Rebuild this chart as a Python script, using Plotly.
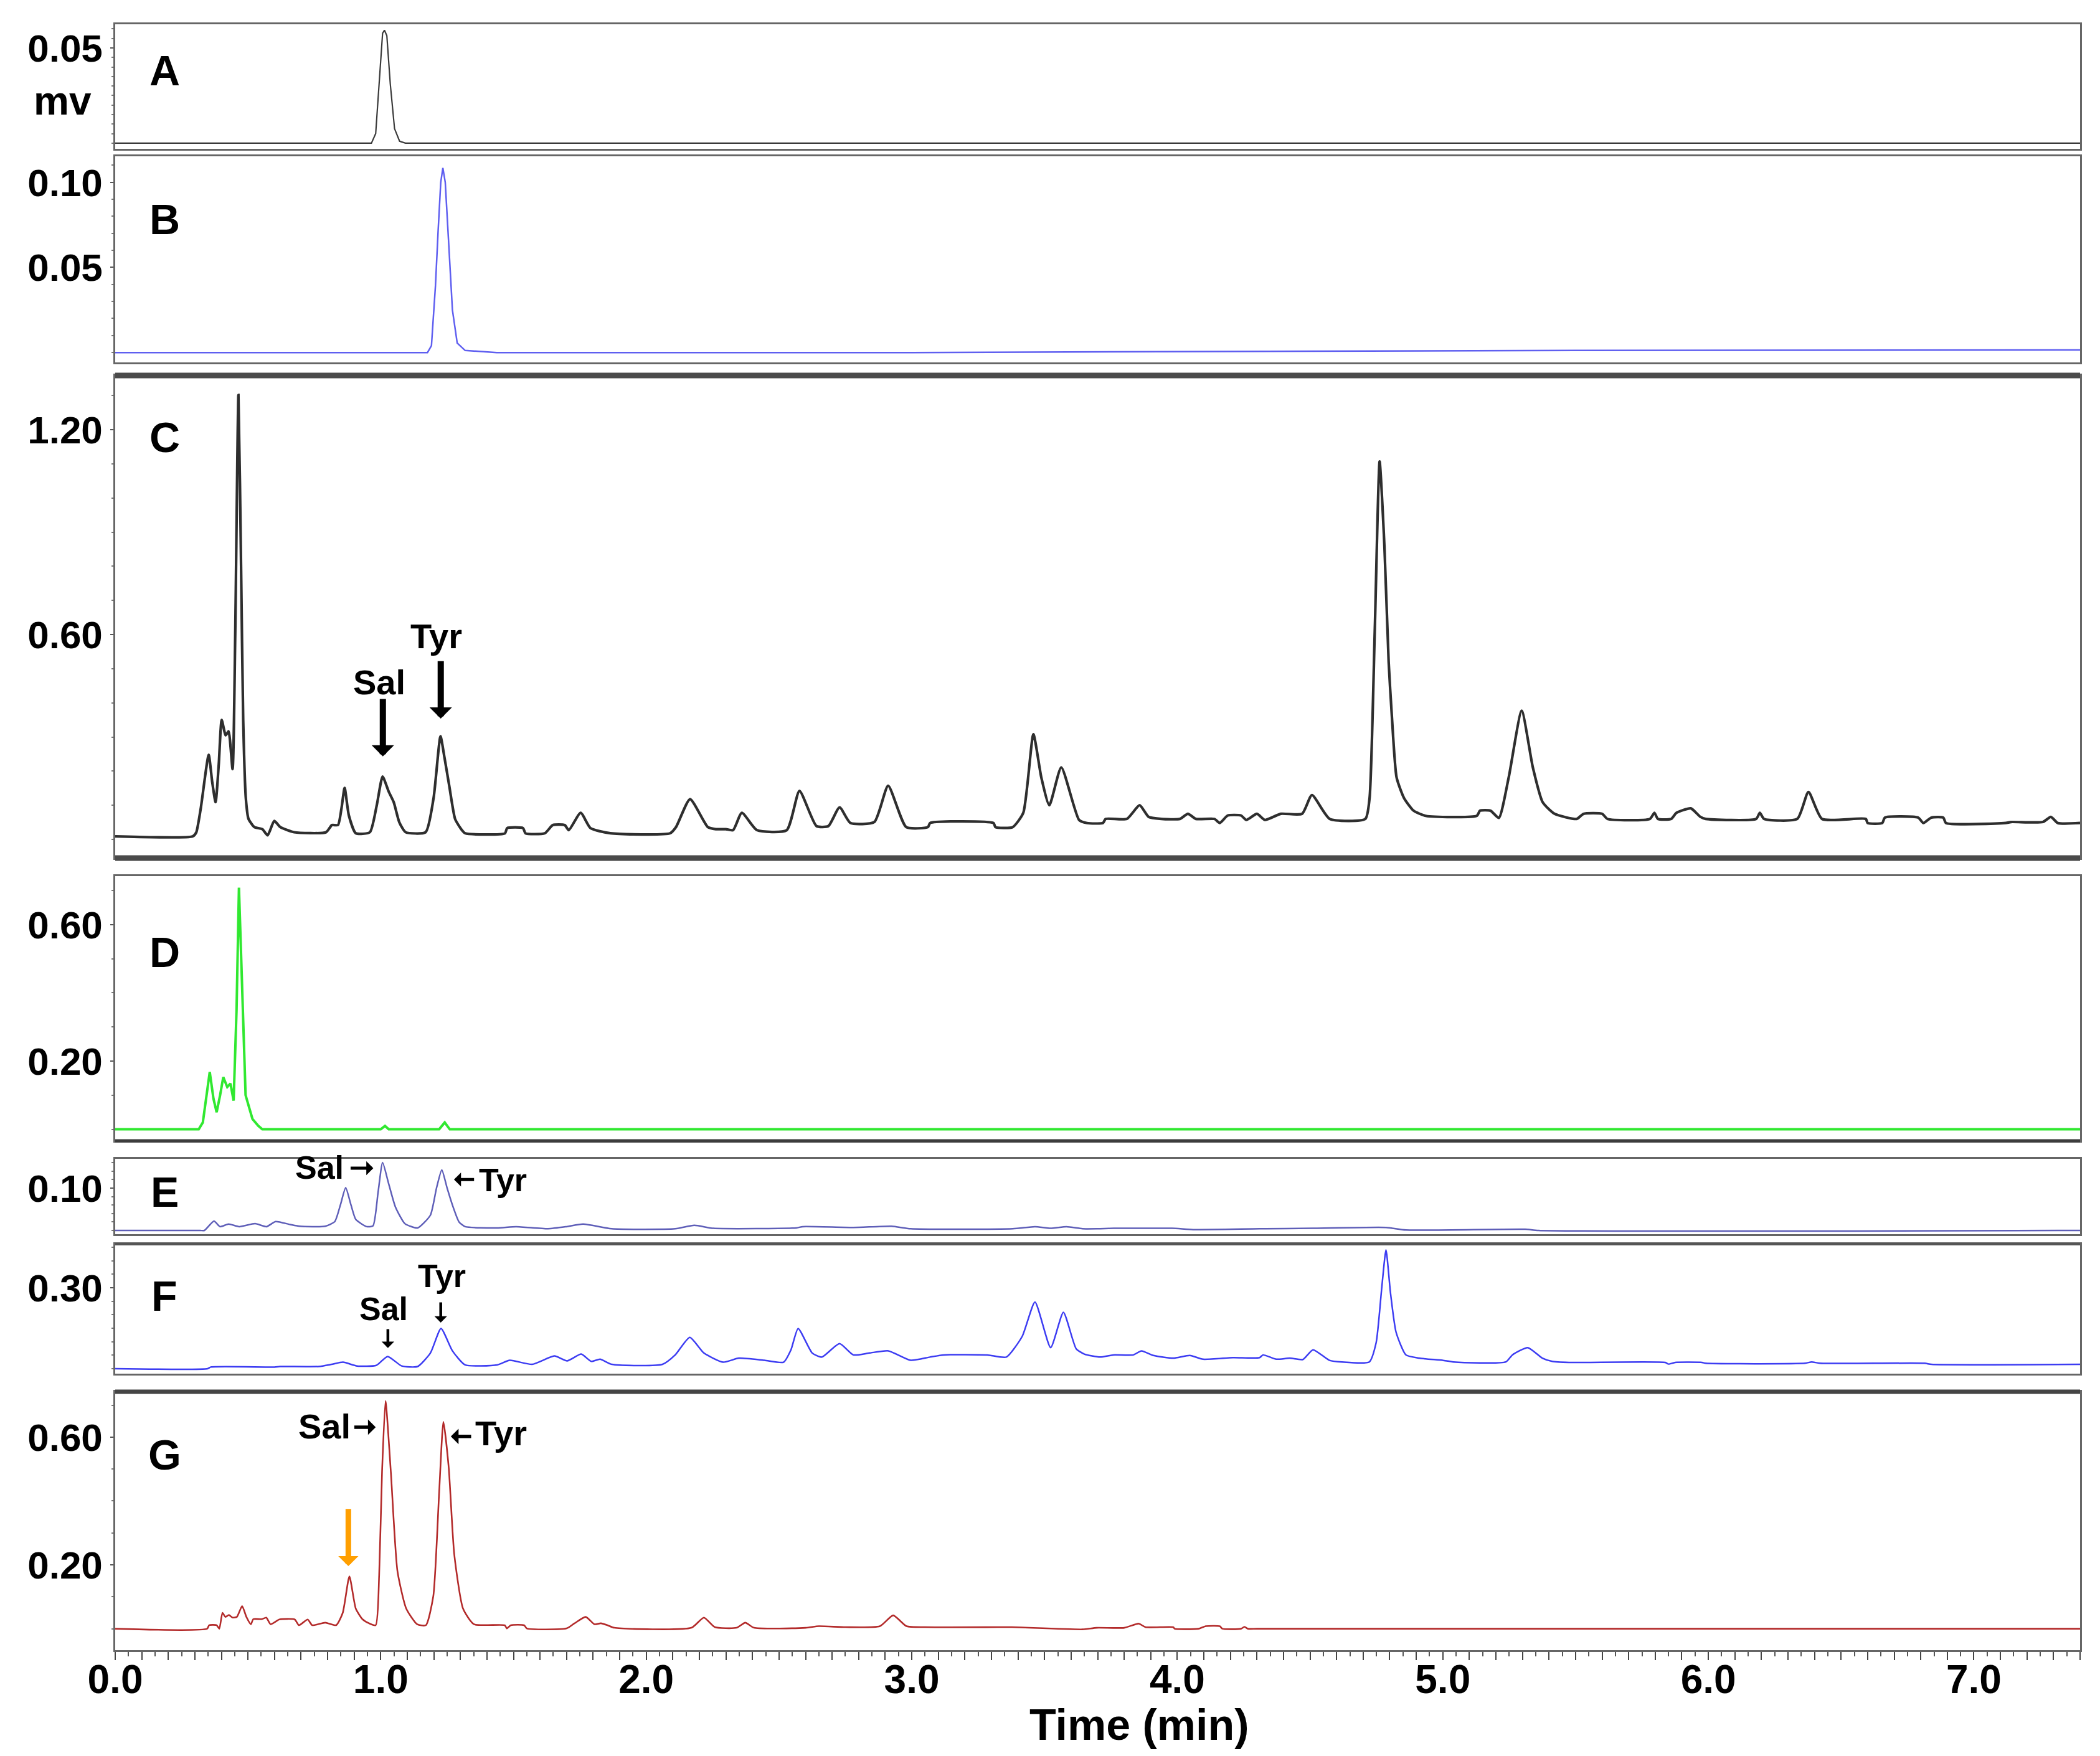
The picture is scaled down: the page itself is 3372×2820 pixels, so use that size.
import numpy as np
import plotly.graph_objects as go

# ---------------- data ----------------
A_time = [0.0, 0.50, 0.965, 0.981, 0.996, 1.007, 1.014, 1.023, 1.036, 1.052, 1.071, 1.093, 2.0, 4.0, 6.0, 7.40]
A_signal = [0.0, 0.0, 0.0, 0.005, 0.0376, 0.0577, 0.0593, 0.0564, 0.031, 0.0076, 0.001, 0.0, 0.0, 0.0, 0.0, 0.0]

B_time = [0.0, 1.176, 1.191, 1.206, 1.216, 1.226, 1.234, 1.243, 1.255, 1.27, 1.288, 1.318, 1.437, 3.0, 4.5, 5.5, 7.40]
B_signal = [0.0, 0.0, 0.004, 0.039, 0.071, 0.100, 0.1085, 0.100, 0.0668, 0.025, 0.0056, 0.0012, 0.0, 0.0, 0.0008, 0.0012, 0.0015]

C_time = [0.0, 0.292, 0.305, 0.322, 0.352, 0.365, 0.378, 0.390, 0.401, 0.416, 0.427, 0.442, 0.452, 0.464,
          0.474, 0.482, 0.492, 0.502, 0.524, 0.554, 0.574, 0.599, 0.622, 0.674, 0.794, 0.816, 0.839, 0.852,
          0.864, 0.880, 0.906, 0.959, 0.985, 1.007, 1.030, 1.049, 1.070, 1.094, 1.169, 1.199, 1.225, 1.240,
          1.258, 1.280, 1.303, 1.318, 1.468, 1.476, 1.536, 1.545, 1.618, 1.648, 1.693, 1.708, 1.753, 1.790,
          1.865, 2.090, 2.112, 2.165, 2.232, 2.262, 2.300, 2.327, 2.360, 2.417, 2.529, 2.577, 2.641, 2.686,
          2.728, 2.769, 2.859, 2.911, 2.979, 3.061, 3.069, 3.308, 3.315, 3.380, 3.420, 3.458, 3.488, 3.518,
          3.563, 3.630, 3.660, 3.720, 3.730, 3.810, 3.858, 3.892, 3.940, 4.010, 4.040, 4.070, 4.140, 4.160,
          4.190, 4.240, 4.260, 4.300, 4.330, 4.390, 4.470, 4.507, 4.574, 4.708, 4.724, 4.744, 4.762, 4.780,
          4.796, 4.808, 4.826, 4.854, 4.890, 4.936, 5.128, 5.140, 5.180, 5.211, 5.248, 5.297, 5.339, 5.376,
          5.421, 5.504, 5.530, 5.600, 5.620, 5.780, 5.797, 5.810, 5.860, 5.880, 5.934, 5.970, 5.990, 6.180,
          6.194, 6.210, 6.335, 6.377, 6.428, 6.593, 6.600, 6.655, 6.665, 6.790, 6.810, 6.840, 6.885, 6.895,
          7.120, 7.140, 7.260, 7.290, 7.316, 7.400]
C_signal = [0.009, 0.009, 0.02, 0.09, 0.248, 0.17, 0.109, 0.22, 0.350, 0.305, 0.317, 0.206, 0.6, 1.302,
            0.8, 0.35, 0.12, 0.06, 0.036, 0.03, 0.012, 0.054, 0.036, 0.021, 0.021, 0.042, 0.042, 0.09,
            0.151, 0.07, 0.018, 0.021, 0.10, 0.184, 0.14, 0.109, 0.05, 0.021, 0.021, 0.121, 0.302, 0.24,
            0.157, 0.06, 0.030, 0.018, 0.018, 0.033, 0.033, 0.018, 0.018, 0.042, 0.042, 0.027, 0.078, 0.033,
            0.018, 0.018, 0.036, 0.118, 0.036, 0.030, 0.030, 0.027, 0.078, 0.027, 0.027, 0.142, 0.039, 0.039,
            0.094, 0.048, 0.051, 0.157, 0.036, 0.036, 0.048, 0.048, 0.036, 0.036, 0.078, 0.308, 0.181, 0.100,
            0.211, 0.057, 0.048, 0.048, 0.060, 0.060, 0.100, 0.066, 0.060, 0.060, 0.075, 0.060, 0.060, 0.048,
            0.070, 0.070, 0.057, 0.075, 0.057, 0.075, 0.075, 0.130, 0.060, 0.060, 0.12, 0.62, 1.107, 0.86,
            0.52, 0.362, 0.181, 0.121, 0.084, 0.069, 0.069, 0.084, 0.084, 0.063, 0.181, 0.377, 0.211, 0.109,
            0.075, 0.060, 0.075, 0.075, 0.060, 0.060, 0.078, 0.060, 0.060, 0.078, 0.091, 0.066, 0.060, 0.060,
            0.078, 0.060, 0.060, 0.139, 0.060, 0.060, 0.048, 0.048, 0.064, 0.064, 0.048, 0.064, 0.064, 0.048,
            0.048, 0.051, 0.051, 0.066, 0.048, 0.048]

D_time = [0.0, 0.3145, 0.33, 0.356, 0.370, 0.382, 0.395, 0.407, 0.422, 0.434, 0.446, 0.457, 0.466, 0.479,
          0.491, 0.517, 0.539, 0.554, 1.00, 1.016, 1.03, 1.22, 1.241, 1.26, 7.40]
D_signal = [0.0, 0.0, 0.02, 0.168, 0.09, 0.05, 0.10, 0.153, 0.124, 0.134, 0.084, 0.35, 0.708, 0.396,
            0.10, 0.03, 0.01, 0.0, 0.0, 0.01, 0.0, 0.0, 0.02, 0.0, 0.0]

E_time = [0.0, 0.320, 0.336, 0.372, 0.395, 0.427, 0.467, 0.527, 0.570, 0.604, 0.659, 0.695, 0.791, 0.827,
          0.848, 0.868, 0.888, 0.906, 0.947, 0.971, 0.990, 1.007, 1.030, 1.055, 1.091, 1.139, 1.187, 1.210,
          1.230, 1.250, 1.270, 1.295, 1.318, 1.438, 1.510, 1.630, 1.700, 1.762, 1.870, 2.109, 2.181, 2.253,
          2.565, 2.589, 2.780, 2.924, 2.996, 3.380, 3.464, 3.523, 3.583, 3.643, 3.700, 3.760, 3.980, 4.060,
          4.310, 4.510, 4.786, 4.861, 5.310, 5.360, 7.400]
E_signal = [0.0, 0.0, 0.0, 0.022, 0.009, 0.015, 0.009, 0.016, 0.009, 0.021, 0.014, 0.010, 0.010, 0.021,
            0.06, 0.101, 0.06, 0.026, 0.009, 0.011, 0.09, 0.160, 0.11, 0.056, 0.016, 0.006, 0.036, 0.10,
            0.143, 0.10, 0.060, 0.02, 0.009, 0.006, 0.009, 0.004, 0.009, 0.015, 0.004, 0.004, 0.012, 0.005,
            0.006, 0.009, 0.007, 0.010, 0.004, 0.004, 0.009, 0.005, 0.009, 0.004, 0.004, 0.005, 0.005, 0.002,
            0.004, 0.005, 0.007, 0.001, 0.003, 0.0, 0.0]

F_time = [0.0, 0.348, 0.36, 0.60, 0.62, 0.767, 0.815, 0.858, 0.911, 0.983, 1.026, 1.079, 1.139, 1.187,
          1.227, 1.270, 1.318, 1.438, 1.486, 1.570, 1.654, 1.702, 1.755, 1.793, 1.826, 1.870, 2.061, 2.109,
          2.164, 2.217, 2.289, 2.349, 2.445, 2.517, 2.545, 2.572, 2.625, 2.661, 2.728, 2.780, 2.840, 2.912,
          2.996, 3.068, 3.120, 3.284, 3.356, 3.416, 3.464, 3.523, 3.571, 3.619, 3.650, 3.709, 3.759, 3.834,
          3.865, 3.910, 3.985, 4.047, 4.097, 4.210, 4.310, 4.323, 4.373, 4.423, 4.473, 4.511, 4.573, 4.620,
          4.723, 4.749, 4.770, 4.786, 4.803, 4.824, 4.861, 4.911, 4.999, 5.040, 5.237, 5.262, 5.320, 5.375,
          5.412, 5.475, 5.838, 5.850, 5.875, 5.976, 5.990, 6.364, 6.389, 6.420, 6.815, 6.840, 7.400]
F_signal = [0.0, 0.0, 0.006, 0.006, 0.008, 0.008, 0.016, 0.024, 0.010, 0.012, 0.045, 0.010, 0.008, 0.058,
            0.149, 0.066, 0.014, 0.014, 0.031, 0.016, 0.047, 0.029, 0.054, 0.027, 0.035, 0.016, 0.016, 0.051,
            0.116, 0.058, 0.024, 0.039, 0.031, 0.024, 0.07, 0.149, 0.058, 0.043, 0.093, 0.051, 0.058, 0.066,
            0.031, 0.043, 0.051, 0.051, 0.043, 0.120, 0.247, 0.078, 0.209, 0.074, 0.054, 0.043, 0.051, 0.051,
            0.066, 0.049, 0.039, 0.049, 0.035, 0.041, 0.041, 0.051, 0.035, 0.039, 0.034, 0.070, 0.031, 0.025,
            0.025, 0.097, 0.30, 0.440, 0.28, 0.135, 0.051, 0.039, 0.031, 0.025, 0.025, 0.051, 0.078, 0.039,
            0.027, 0.023, 0.023, 0.017, 0.023, 0.023, 0.020, 0.020, 0.025, 0.020, 0.020, 0.016, 0.016]

G_time = [0.0, 0.346, 0.354, 0.382, 0.392, 0.404, 0.415, 0.428, 0.442, 0.458, 0.478, 0.494, 0.511, 0.520,
          0.552, 0.569, 0.585, 0.618, 0.676, 0.692, 0.725, 0.742, 0.791, 0.832, 0.857, 0.882, 0.906, 0.931,
          0.956, 0.981, 0.994, 1.005, 1.018, 1.038, 1.063, 1.096, 1.137, 1.170, 1.198, 1.220, 1.236, 1.256,
          1.277, 1.310, 1.351, 1.467, 1.475, 1.490, 1.540, 1.550, 1.700, 1.730, 1.772, 1.805, 1.829, 1.854,
          1.880, 2.170, 2.217, 2.258, 2.340, 2.373, 2.406, 2.600, 2.650, 2.750, 2.880, 2.930, 2.980, 3.050,
          3.324, 3.377, 3.643, 3.696, 3.800, 3.855, 3.880, 3.985, 3.990, 4.080, 4.107, 4.160, 4.170, 4.240,
          4.253, 4.266, 4.300, 7.300, 7.400]
G_signal = [0.0, 0.0, 0.011, 0.011, 0.0, 0.050, 0.037, 0.043, 0.035, 0.037, 0.071, 0.037, 0.014, 0.030,
            0.030, 0.035, 0.014, 0.029, 0.029, 0.011, 0.029, 0.011, 0.019, 0.011, 0.050, 0.164, 0.063, 0.030,
            0.017, 0.011, 0.167, 0.492, 0.713, 0.492, 0.180, 0.063, 0.014, 0.011, 0.102, 0.427, 0.648, 0.505,
            0.232, 0.063, 0.014, 0.011, 0.001, 0.011, 0.011, 0.001, 0.001, 0.017, 0.037, 0.014, 0.017, 0.011,
            0.003, 0.003, 0.035, 0.005, 0.003, 0.019, 0.003, 0.003, 0.008, 0.005, 0.008, 0.042, 0.008, 0.005,
            0.005, 0.005, -0.002, 0.003, 0.003, 0.016, 0.005, 0.005, 0.0, 0.0, 0.008, 0.008, 0.0, 0.0,
            0.006, 0.0, 0.0, 0.0, 0.0]

panel_labels = ["A", "B", "C", "D", "E", "F", "G"]
y_tick_values = [[0.05], [0.05, 0.10], [0.60, 1.20], [0.20, 0.60], [0.10], [0.30], [0.20, 0.60]]
x_tick_labels = ["0.0", "1.0", "2.0", "3.0", "4.0", "5.0", "6.0", "7.0"]
x_title = "Time (min)"
y_unit = "mv"

# ---------------- layout / style ----------------
W, H = 3372, 2820
PL, PR, PT, PB = 185, 3340, 39, 2650
panel_px = [(39, 239), (251, 582), (603, 1378), (1407, 1832), (1861, 1982), (1998, 2206), (2235, 2650)]
y_ranges = [(-0.003, 0.0624), (-0.0058, 0.1153), (-0.0547, 1.359), (-0.0336, 0.742),
            (-0.0088, 0.169), (-0.0185, 0.4616), (-0.067, 0.742)]
y_minor = [0.005, 0.01, 0.1, 0.1, 0.02, 0.05, 0.1]
colors = ["#3a3a3a", "#5f5ff0", "#2e2e2e", "#30e830", "#5e5eb8", "#3c3cf2", "#b32a2a"]
widths = [2.2, 2.5, 4.2, 4.0, 2.5, 2.5, 2.6]
shapes_ = ["linear", "linear", "spline", "linear", "spline", "spline", "spline"]
FONT = "Liberation Sans, Arial, sans-serif"
X_MAX = 7.4

series = [(A_time, A_signal), (B_time, B_signal), (C_time, C_signal), (D_time, D_signal),
          (E_time, E_signal), (F_time, F_signal), (G_time, G_signal)]

ph = PB - PT
def py(ypx):
    return (PB - ypx) / ph
def px(xpx):
    return (xpx - PL) / (PR - PL)

fig = go.Figure()
layout = dict(
    width=W, height=H,
    margin=dict(l=PL, r=W - PR, t=PT, b=H - PB, pad=0),
    paper_bgcolor="white", plot_bgcolor="white",
    showlegend=False,
    font=dict(family=FONT, color="black"),
)

xt_vals = [round(v, 2) for v in np.arange(0, X_MAX + 0.001, 0.1)]
xt_text = [x_tick_labels[int(round(v))] if abs(v - round(v)) < 1e-6 and int(round(v)) < len(x_tick_labels) else "" for v in xt_vals]

for i, ((t, s), (top, bot)) in enumerate(zip(series, panel_px)):
    n = i + 1
    xa = "x" if n == 1 else f"x{n}"
    ya = "y" if n == 1 else f"y{n}"
    line = dict(color=colors[i], width=widths[i], shape=shapes_[i])
    if shapes_[i] == "spline":
        line["smoothing"] = 0.55
    fig.add_trace(go.Scatter(x=t, y=s, mode="lines", xaxis=xa, yaxis=ya, line=line, hoverinfo="skip"))
    is_bottom = (n == 7)
    xaxis = dict(domain=[0, 1], range=[0, X_MAX], anchor=ya, showgrid=False, zeroline=False,
                 showline=True, mirror=True, linecolor="#666", linewidth=2.5)
    if is_bottom:
        xaxis.update(tickmode="array", tickvals=xt_vals, ticktext=xt_text, ticks="outside",
                     ticklen=13, tickwidth=2, tickcolor="#444", ticklabelstandoff=-24,
                     tickfont=dict(family=FONT, size=64, color="black", weight="bold"),
                     minor=dict(dtick=0.05, tick0=0, ticks="outside", ticklen=7, tickwidth=1.5, tickcolor="#555"))
    else:
        xaxis.update(showticklabels=False, ticks="")
    yaxis = dict(domain=[py(bot), py(top)], range=list(y_ranges[i]), anchor=xa,
                 showgrid=False, zeroline=False, showline=True, mirror=True,
                 linecolor="#666", linewidth=2.5,
                 tickmode="array", tickvals=y_tick_values[i], tickformat=".2f",
                 ticks="outside", ticklen=5, tickwidth=2, tickcolor="#555",
                 tickfont=dict(family=FONT, size=62, color="black", weight="bold"),
                 minor=dict(dtick=y_minor[i], ticks="outside", ticklen=3, tickwidth=1.5, tickcolor="#777"))
    layout["xaxis" if n == 1 else f"xaxis{n}"] = xaxis
    layout["yaxis" if n == 1 else f"yaxis{n}"] = yaxis

fig.update_layout(**layout)

# thicker frame edges
thick = [(603, 9, "#4a4a4a"), (1378, 9, "#4a4a4a"), (1832, 5, "#3c3c3c"), (1998, 4, "#555"), (2235, 7, "#444")]
for ypx, w, c in thick:
    fig.add_shape(type="line", xref="paper", yref="paper", x0=0, x1=1, y0=py(ypx), y1=py(ypx),
                  line=dict(color=c, width=w), layer="above")

# panel letters
letter_y = [113, 352, 702, 1529, 1914, 2081, 2336]
for lab, yc in zip(panel_labels, letter_y):
    fig.add_annotation(text=lab, xref="paper", yref="paper", x=px(264), y=py(yc),
                       xanchor="center", yanchor="middle", showarrow=False,
                       font=dict(family=FONT, size=68, color="black", weight="bold"))

# unit label
fig.add_annotation(text=y_unit, xref="paper", yref="paper", x=px(100), y=py(162),
                   xanchor="center", yanchor="middle", showarrow=False,
                   font=dict(family=FONT, size=64, color="black", weight="bold"))
# x title
fig.add_annotation(text=x_title, xref="paper", yref="paper", x=px(1830), y=py(2770),
                   xanchor="center", yanchor="middle", showarrow=False,
                   font=dict(family=FONT, size=70, color="black", weight="bold"))

def label(n, text, x, y, size):
    fig.add_annotation(text=text, xref=f"x{n}", yref=f"y{n}", x=x, y=y, showarrow=False,
                       xanchor="center", yanchor="middle",
                       font=dict(family=FONT, size=size, color="black", weight="bold"))

def arrow(n, x0, y0, x1, y1, w, size, color="black"):
    fig.add_annotation(text="", xref=f"x{n}", yref=f"y{n}", axref=f"x{n}", ayref=f"y{n}",
                       x=x1, y=y1, ax=x0, ay=y0, showarrow=True, arrowhead=1,
                       arrowwidth=w, arrowsize=size, arrowcolor=color, standoff=0, startstandoff=0)

# C annotations
label(3, "Sal", 0.994, 0.461, 56)
label(3, "Tyr", 1.21, 0.595, 56)
arrow(3, 1.008, 0.414, 1.008, 0.243, 10, 0.6)
arrow(3, 1.226, 0.525, 1.226, 0.354, 10, 0.6)
# E annotations
label(5, "Sal", 0.770, 0.148, 52)
arrow(5, 0.883, 0.147, 0.972, 0.147, 5, 0.75)
arrow(5, 1.355, 0.12, 1.276, 0.12, 5, 0.75)
label(5, "Tyr", 1.461, 0.119, 52)
# F annotations
label(6, "Sal", 1.010, 0.222, 52)
arrow(6, 1.027, 0.150, 1.027, 0.077, 4.5, 0.75)
label(6, "Tyr", 1.231, 0.344, 52)
arrow(6, 1.226, 0.249, 1.226, 0.171, 4.5, 0.75)
# G annotations
label(7, "Sal", 0.789, 0.633, 56)
arrow(7, 0.897, 0.631, 0.981, 0.631, 5.5, 0.75)
arrow(7, 1.344, 0.602, 1.264, 0.602, 5.5, 0.75)
label(7, "Tyr", 1.452, 0.612, 56)
arrow(7, 0.878, 0.378, 0.878, 0.196, 9, 0.6, color="#ff9f00")

fig.write_html("out.html", config={"displayModeBar": False})
